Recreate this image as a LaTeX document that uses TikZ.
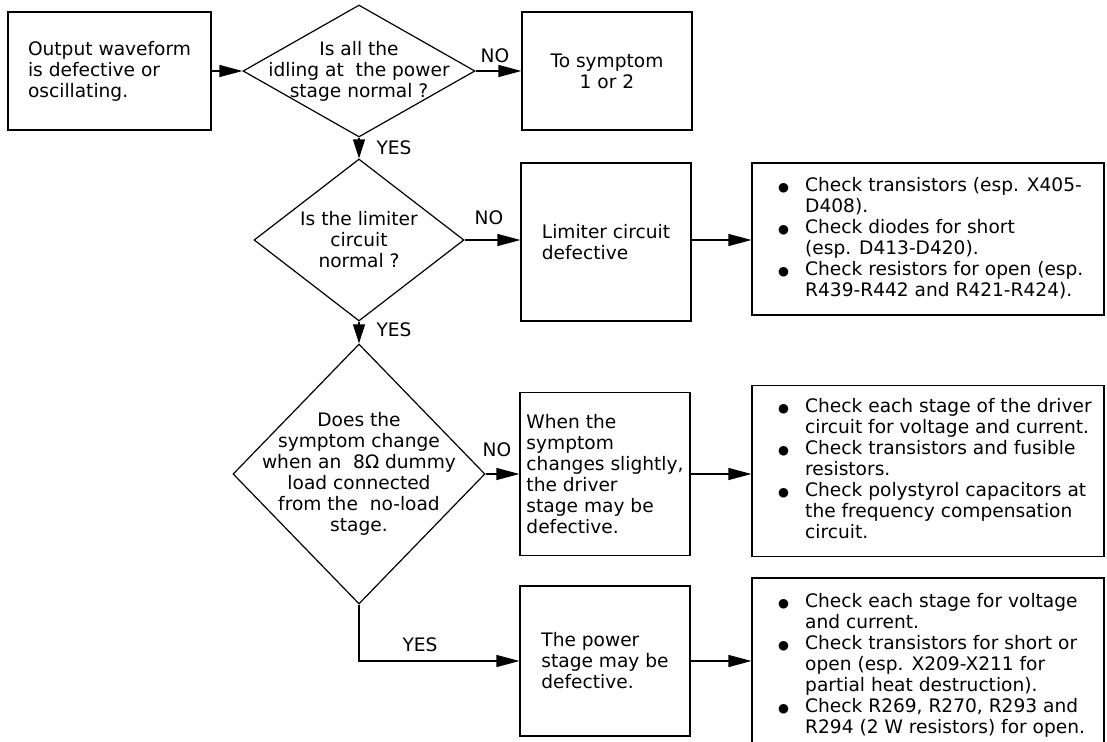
\documentclass[tikz,border=0pt]{standalone}
\usepackage{fontspec}
\setmainfont{DejaVu Sans}
\usetikzlibrary{arrows.meta,shapes.geometric}

\newcommand{\blt}{{\fontsize{12.5}{12.5}\selectfont ●}}

\begin{document}
\begin{tikzpicture}[x=1pt,y=1pt,yscale=-1,xscale=1,
  font=\fontsize{18.6}{21}\selectfont,
  box/.style={draw, line width=1.2pt, inner sep=0pt},
  ques/.style={draw, diamond, line width=1.2pt, inner sep=0pt},
  flow/.style={line width=1.2pt, -{Triangle[length=23pt,width=12pt]}},
  flowdown/.style={line width=1.2pt, -{Triangle[length=19pt,width=12pt]}},
  lbl/.style={inner sep=0.75pt}]
\useasboundingbox (0,0) rectangle (1107,741);

%Shape: Rectangle [start]
\node [box, minimum width=203, minimum height=118, align=left] (start) at (109.5,71) {Output waveform\\is defective or\\oscillating.};
%Shape: Diamond [q1]
\node [ques, minimum width=232, minimum height=132] (q1) at (359,71) {};
% Text Node
\node [lbl, align=center] (q1txt) at (q1) {Is all the\\idling at\ \ the power\\stage normal ?};
%Shape: Rectangle [tosym]
\node [box, minimum width=170, minimum height=118, align=center] (tosym) at (607,71) {To symptom\\1 or 2};

%Shape: Diamond [q2]
\node [ques, minimum width=210, minimum height=162] (q2) at (359,240) {};
% Text Node
\node [lbl, align=center] (q2txt) at (q2) {Is the limiter\\circuit\\normal ?};
%Shape: Rectangle [limit]
\node [box, minimum width=170, minimum height=158, align=left] (limit) at (606,242) {Limiter circuit\\defective};
%Shape: Rectangle [chk1]
\node [box, minimum width=352, minimum height=152] (chk1) at (928,239) {};
% Text Node
\node [lbl, inner sep=0pt, anchor=west] (chk1txt) at (778,240) {\begin{tabular}{@{}p{27pt}@{}l@{}}
\blt & Check transistors (esp. X405-\\
 & D408).\\
\blt & Check diodes for short\\
 & (esp. D413-D420).\\
\blt & Check resistors for open (esp.\\
 & R439-R442 and R421-R424).
\end{tabular}};

%Shape: Diamond [q3]
\node [ques, minimum width=252, minimum height=260] (q3) at (359,474) {};
% Text Node
\node [lbl, align=center] (q3txt) at (q3) {Does the\\symptom change\\when an\ \ 8Ω dummy\\load connected\\from the\ \ no-load\\stage.};
%Shape: Rectangle [driver]
\node [box, minimum width=170, minimum height=163, align=left] (driver) at (605,474) {When the\\symptom\\changes slightly,\\the driver\\stage may be\\defective.};
%Shape: Rectangle [chk2]
\node [box, minimum width=352, minimum height=171] (chk2) at (928,471) {};
% Text Node
\node [lbl, inner sep=0pt, anchor=west] (chk2txt) at (778,471) {\begin{tabular}{@{}p{27pt}@{}l@{}}
\blt & Check each stage of the driver\\
 & circuit for voltage and current.\\
\blt & Check transistors and fusible\\
 & resistors.\\
\blt & Check polystyrol capacitors at\\
 & the frequency compensation\\
 & circuit.
\end{tabular}};

%Shape: Rectangle [power]
\node [box, minimum width=170, minimum height=150, align=left] (power) at (605,661) {The power\\stage may be\\defective.};
%Shape: Rectangle [chk3]
\node [box, minimum width=352, minimum height=168] (chk3) at (928,662) {};
% Text Node
\node [lbl, inner sep=0pt, anchor=west] (chk3txt) at (778,666) {\begin{tabular}{@{}p{27pt}@{}l@{}}
\blt & Check each stage for voltage\\
 & and current.\\
\blt & Check transistors for short or\\
 & open (esp. X209-X211 for\\
 & partial heat destruction).\\
\blt & Check R269, R270, R293 and\\
 & R294 (2 W resistors) for open.
\end{tabular}};

%Straight Lines
\draw [flow] (start.east) -- (q1.west);
\draw [flow] (q1.east) -- (tosym.west);
\draw [flowdown] (q1.south) -- (q2.north);
\draw [flow] (q2.east) -- (limit.west |- q2.east);
\draw [flow] (limit.east |- q2.east) -- (chk1.west |- q2.east);
\draw [flowdown] (q2.south) -- (q3.north);
\draw [flow] (q3.east) -- (driver.west |- q3.east);
\draw [flow] (driver.east |- q3.east) -- (chk2.west |- q3.east);
\draw [flow] (q3.south) |- (power.west);
\draw [flow] (power.east) -- (power.east -| chk3.west);

% Text Node
\node [lbl] (no1) at (495,56) {NO};
% Text Node
\node [lbl] (yes1) at (394,148) {YES};
% Text Node
\node [lbl] (no2) at (489,218) {NO};
% Text Node
\node [lbl] (yes2) at (394,330) {YES};
% Text Node
\node [lbl] (no3) at (497,450) {NO};
% Text Node
\node [lbl] (yes3) at (420,645) {YES};

\end{tikzpicture}
\end{document}
